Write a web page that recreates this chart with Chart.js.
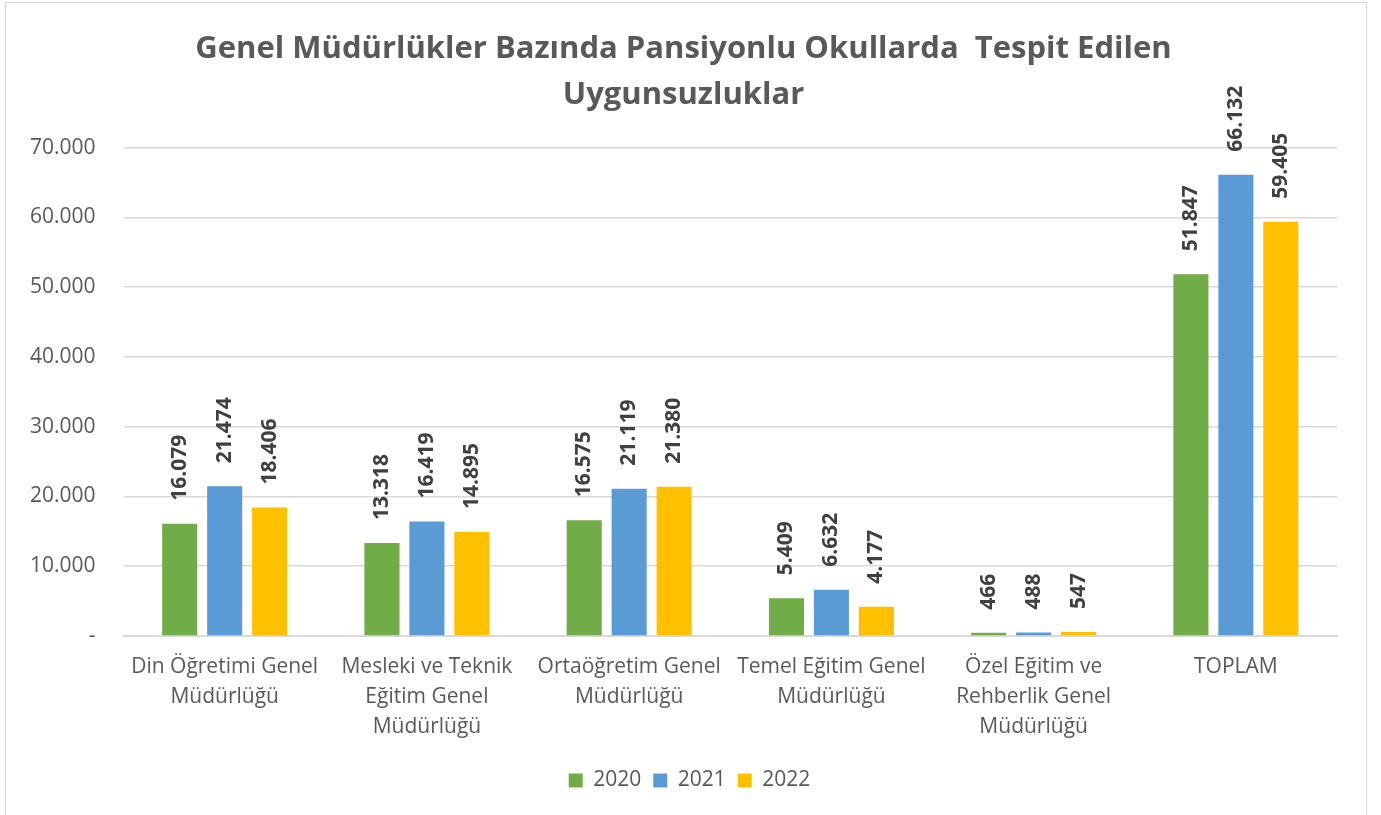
<!DOCTYPE html>
<html>
<head>
<meta charset="utf-8">
<script src="https://cdn.jsdelivr.net/npm/chart.js@4"></script>
<style>
  body { margin: 0; background: #fff; }
  #frame { position: absolute; left: 5px; top: 2px; width: 1360px; height: 840px; border: 1px solid #d9d9d9; }
  #wrap { position: absolute; left: 0; top: 0; width: 1381px; height: 815px; }
</style>
</head>
<body>
<div id="frame"></div>
<div id="wrap"><canvas id="chart"></canvas></div>
<script>
const categories = [
    ['Din Öğretimi Genel', 'Müdürlüğü'],
    ['Mesleki ve Teknik', 'Eğitim Genel', 'Müdürlüğü'],
    ['Ortaöğretim Genel', 'Müdürlüğü'],
    ['Temel Eğitim Genel', 'Müdürlüğü'],
    ['Özel Eğitim ve', 'Rehberlik Genel', 'Müdürlüğü'],
    'TOPLAM'
];
const years = ['2020', '2021', '2022'];
const values2020 = [16079, 13318, 16575, 5409, 466, 51847];
const values2021 = [21474, 16419, 21119, 6632, 488, 66132];
const values2022 = [18406, 14895, 21380, 4177, 547, 59405];
const colors = ['#70ad47', '#5b9bd5', '#ffc000'];

// 16079 -> "16.079"
function fmt(v) {
    return String(Math.round(v)).replace(/\B(?=(\d{3})+(?!\d))/g, '.');
}

// Rotated value labels above every bar
const barLabels = {
    id: 'barLabels',
    afterDatasetsDraw(chart) {
        const ctx = chart.ctx;
        ctx.save();
        ctx.fillStyle = '#404040';
        ctx.font = 'bold 21px "Open Sans", sans-serif';
        ctx.textAlign = 'left';
        ctx.textBaseline = 'middle';
        chart.data.datasets.forEach((ds, i) => {
            chart.getDatasetMeta(i).data.forEach((bar, j) => {
                ctx.save();
                ctx.translate(bar.x, bar.y - 23);
                ctx.rotate(-Math.PI / 2);
                ctx.fillText(fmt(ds.data[j]), 0, 0);
                ctx.restore();
            });
        });
        ctx.restore();
    }
};

// center title and legend on the whole canvas rather than the padded box
const centerShift = {
    id: 'centerShift',
    afterLayout(chart) {
        chart.legend.left += 20;
        chart.legend.right += 20;
        chart.titleBlock.left += 14;
        chart.titleBlock.right += 14;
    }
};

Chart.defaults.font.family = "'Open Sans', sans-serif";
Chart.defaults.color = '#595959';

new Chart(document.getElementById('chart'), {
    type: 'bar',
    data: {
        labels: categories,
        datasets: [
            { label: years[0], data: values2020, backgroundColor: colors[0] },
            { label: years[1], data: values2021, backgroundColor: colors[1] },
            { label: years[2], data: values2022, backgroundColor: colors[2] }
        ]
    },
    options: {
        responsive: true,
        maintainAspectRatio: false,
        animation: false,
        categoryPercentage: 0.667,
        barPercentage: 0.78,
        layout: { padding: { left: 2, right: 44, top: 14, bottom: 14 } },
        plugins: {
            title: {
                display: true,
                text: ['Genel Müdürlükler Bazında Pansiyonlu Okullarda  Tespit Edilen', 'Uygunsuzluklar'],
                font: { size: 31, weight: 'bold', lineHeight: 1.48 },
                color: '#595959',
                padding: { top: 12, bottom: 30 }
            },
            legend: {
                position: 'bottom',
                labels: { boxWidth: 14, boxHeight: 14, font: { size: 21 }, color: '#595959', padding: 12 }
            },
            tooltip: { enabled: false }
        },
        scales: {
            y: {
                min: 0,
                max: 70000,
                ticks: {
                    stepSize: 10000,
                    font: { size: 21 },
                    color: '#595959',
                    padding: 28,
                    callback: v => v === 0 ? '-' : fmt(v)
                },
                grid: { color: '#d9d9d9', lineWidth: 1.5, drawTicks: false },
                border: { display: false }
            },
            x: {
                ticks: { font: { size: 21, lineHeight: 1.43 }, color: '#595959', padding: 16, maxRotation: 0 },
                grid: { display: false, drawTicks: false },
                border: { color: '#d9d9d9', width: 2 }
            }
        }
    },
    plugins: [barLabels, centerShift]
});
</script>
</body>
</html>
